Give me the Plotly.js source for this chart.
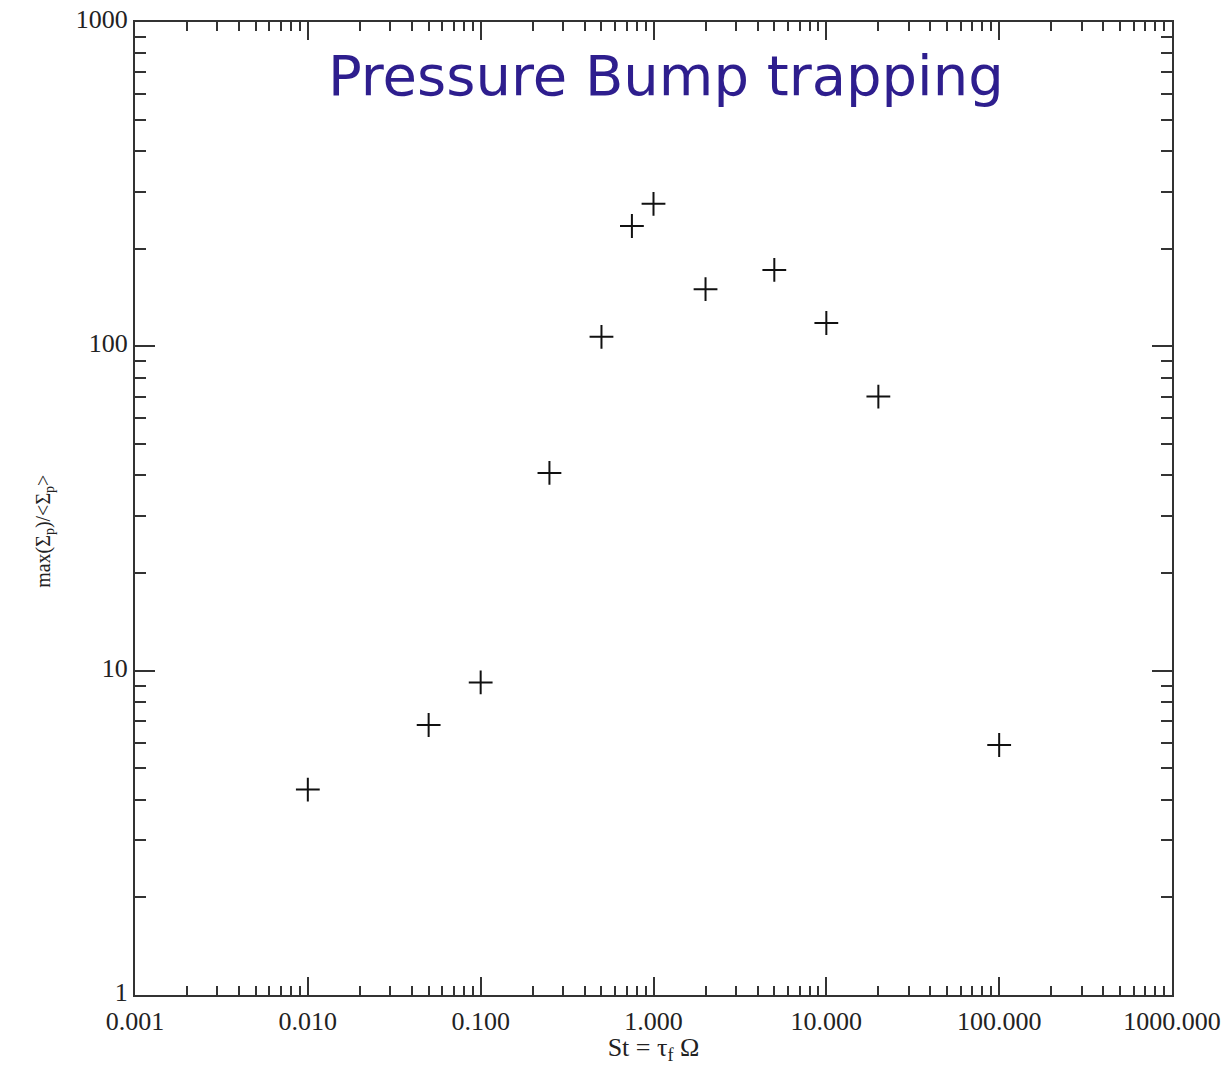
<!DOCTYPE html>
<html>
<head>
<meta charset="utf-8">
<script src="https://cdn.plot.ly/plotly-3.0.1.min.js"></script>
<style>html,body{margin:0;padding:0;background:#fff;}#chart{width:1228px;height:1065px;}</style>
</head>
<body>
<div id="chart"></div>
<script>
const stokes = [0.01, 0.05, 0.1, 0.25, 0.5, 0.75, 1, 2, 5, 10, 20, 100];
const maxRatio = [4.3, 6.8, 9.2, 40.7, 107, 235, 275, 150, 172, 118, 70, 5.9];
const xTickVals = [0.001, 0.01, 0.1, 1, 10, 100, 1000];
const xTickText = ['0.001', '0.010', '0.100', '1.000', '10.000', '100.000', '1000.000'];
const yTickVals = [1, 10, 100, 1000];
const yTickText = ['1', '10', '100', '1000'];
const minorMultipliers = [2, 3, 4, 5, 6, 7, 8, 9];

function minorTicks(decades) {
  const out = [];
  decades.forEach(d => minorMultipliers.forEach(m => out.push(d * m)));
  return out;
}

const trace = {
  x: stokes, y: maxRatio, type: 'scatter', mode: 'markers',
  marker: {symbol: 'cross-thin', size: 17, color: '#111', line: {width: 2, color: '#111'}},
  hoverinfo: 'x+y'
};

const serif = '"Liberation Serif", "DejaVu Serif", serif';
const tickFont = {family: serif, size: 26, color: '#222'};

const layout = {
  width: 1228, height: 1065,
  margin: {l: 135, r: 56, t: 22, b: 70},
  paper_bgcolor: '#fff', plot_bgcolor: '#fff',
  showlegend: false,
  xaxis: {
    type: 'log', range: [-3, 3],
    tickmode: 'array', tickvals: xTickVals, ticktext: xTickText,
    ticks: 'inside', ticklen: 18, tickwidth: 2, tickcolor: '#333',
    minor: {tickmode: 'array', tickvals: minorTicks(xTickVals.slice(0, -1)), ticks: 'inside', ticklen: 9, tickwidth: 2, tickcolor: '#333', showgrid: false},
    showline: true, linewidth: 2, linecolor: '#333', mirror: 'allticks',
    showgrid: false, zeroline: false,
    tickfont: tickFont, ticklabelstandoff: 2,
    title: {text: 'St = τ<sub>f</sub> Ω', font: {family: serif, size: 26, color: '#222'}, standoff: 0}
  },
  yaxis: {
    type: 'log', range: [0, 3],
    tickmode: 'array', tickvals: yTickVals, ticktext: yTickText,
    ticks: 'inside', ticklen: 20, tickwidth: 2, tickcolor: '#333',
    minor: {tickmode: 'array', tickvals: minorTicks(yTickVals.slice(0, -1)), ticks: 'inside', ticklen: 11, tickwidth: 2, tickcolor: '#333', showgrid: false},
    showline: true, linewidth: 2, linecolor: '#333', mirror: 'allticks',
    showgrid: false, zeroline: false,
    tickfont: tickFont, ticklabelshift: -3,
    title: {text: ''}
  },
  annotations: [{
    text: 'Pressure Bump trapping', xref: 'paper', yref: 'paper',
    x: 0.512, y: 0.945, xanchor: 'center', yanchor: 'middle', showarrow: false,
    font: {family: '"DejaVu Sans", Verdana, sans-serif', size: 56, color: '#2E1E8E'}
  }, {
    text: 'max(Σ<sub>p</sub>)/<Σ<sub>p</sub>>', xref: 'paper', yref: 'paper',
    x: 0, y: 0.476, xshift: -90, xanchor: 'center', yanchor: 'middle', textangle: -90, showarrow: false,
    font: {family: serif, size: 20, color: '#222'}
  }]
};

Plotly.newPlot('chart', [trace], layout, {displayModeBar: false, staticPlot: true});
</script>
</body>
</html>
